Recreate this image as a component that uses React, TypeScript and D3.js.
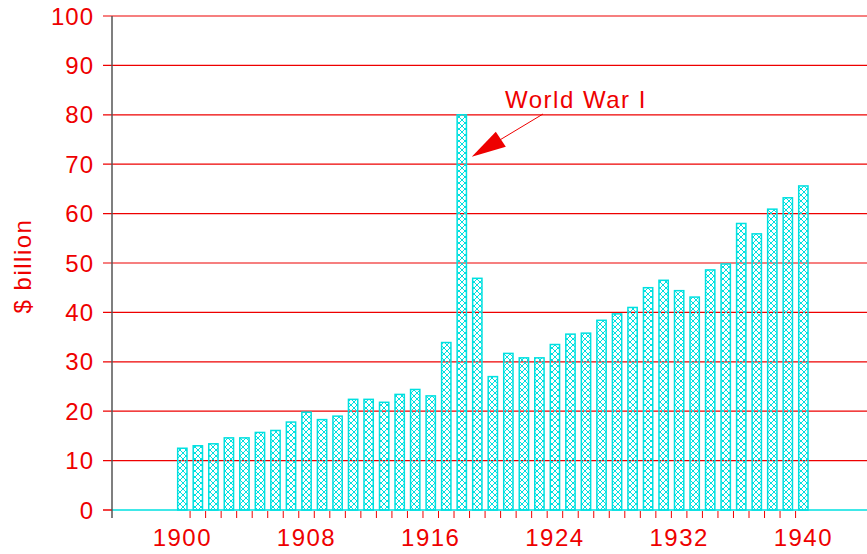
import React, { useEffect, useRef } from "react";
import * as d3 from "d3";

// years 1900..1940
const years = d3.range(1900, 1941);
const values = [
  12.5, 13.0, 13.4, 14.6, 14.6, 15.7, 16.1, 17.8, 19.8, 18.3,
  19.0, 22.4, 22.4, 21.8, 23.4, 24.4, 23.1, 33.9, 80.0, 46.9,
  27.0, 31.7, 30.8, 30.8, 33.5, 35.6, 35.8, 38.4, 39.7, 41.0,
  45.0, 46.5, 44.4, 43.1, 48.6, 49.8, 58.0, 55.9, 60.9, 63.2, 65.6,
];
const yTicks = [0, 10, 20, 30, 40, 50, 60, 70, 80, 90, 100];
const xLabels = [1900, 1908, 1916, 1924, 1932, 1940];

const RED = "#ee0000";
const CYAN = "#00e0e0";
const FONT = "'Liberation Sans', Arial, sans-serif";

export default function App() {
  const ref = useRef<SVGSVGElement>(null);

  useEffect(() => {
    const svg = d3.select(ref.current);
    svg.selectAll("*").remove();

    const width = 867, height = 554;
    const left = 112, bottom = 510, top = 16;

    const x = d3.scaleLinear().domain([1895.47, 1944.1]).range([left, width]);
    const y = d3.scaleLinear().domain([0, 100]).range([bottom, top]);
    const barW = 9.3;

    const defs = svg.append("defs");
    const pat = defs.append("pattern")
      .attr("id", "hatch")
      .attr("patternUnits", "userSpaceOnUse")
      .attr("width", 6)
      .attr("height", 6);
    pat.append("path")
      .attr("d", "M0,0L6,6M6,0L0,6")
      .attr("stroke", CYAN)
      .attr("stroke-width", 1);

    // gridlines
    svg.append("g")
      .selectAll("line")
      .data(yTicks.filter(d => d > 0))
      .enter().append("line")
      .attr("x1", left - 9)
      .attr("x2", width)
      .attr("y1", d => y(d))
      .attr("y2", d => y(d))
      .attr("stroke", RED)
      .attr("stroke-width", 1.2);

    // y labels
    svg.append("g")
      .selectAll("text")
      .data(yTicks)
      .enter().append("text")
      .attr("x", 94)
      .attr("y", d => y(d))
      .attr("dy", "0.36em")
      .attr("text-anchor", "end")
      .attr("font-family", FONT)
      .attr("font-size", 24)
      .attr("letter-spacing", 1)
      .attr("fill", RED)
      .text(d => d);

    // bars
    svg.append("g")
      .selectAll("rect")
      .data(years)
      .enter().append("rect")
      .attr("x", (d) => x(d) - barW / 2)
      .attr("y", (d, i) => y(values[i]))
      .attr("width", barW)
      .attr("height", (d, i) => bottom - y(values[i]))
      .attr("fill", "url(#hatch)")
      .attr("stroke", CYAN)
      .attr("stroke-width", 1.5);

    // zero line
    svg.append("line")
      .attr("x1", left - 9).attr("x2", left)
      .attr("y1", bottom).attr("y2", bottom)
      .attr("stroke", RED).attr("stroke-width", 1.5);
    svg.append("line")
      .attr("x1", left).attr("x2", width)
      .attr("y1", bottom).attr("y2", bottom)
      .attr("stroke", CYAN).attr("stroke-width", 1.5);

    // x ticks between bars
    svg.append("g")
      .selectAll("line")
      .data(years.slice(0, -1))
      .enter().append("line")
      .attr("x1", d => x(d + 0.5))
      .attr("x2", d => x(d + 0.5))
      .attr("y1", bottom + 1)
      .attr("y2", bottom + 8)
      .attr("stroke", RED)
      .attr("stroke-width", 1);

    // x labels
    svg.append("g")
      .selectAll("text")
      .data(xLabels)
      .enter().append("text")
      .attr("x", d => x(d))
      .attr("y", 537)
      .attr("dy", "0.36em")
      .attr("text-anchor", "middle")
      .attr("font-family", FONT)
      .attr("font-size", 24)
      .attr("letter-spacing", 1.5)
      .attr("fill", RED)
      .text(d => d);

    // y axis line
    svg.append("line")
      .attr("x1", left).attr("x2", left)
      .attr("y1", top).attr("y2", bottom + 8)
      .attr("stroke", "#555").attr("stroke-width", 1.5);

    // y title
    svg.append("text")
      .attr("transform", "translate(31,266) rotate(-90)")
      .attr("text-anchor", "middle")
      .attr("font-family", FONT)
      .attr("font-size", 24)
      .attr("letter-spacing", 1.5)
      .attr("fill", RED)
      .text("$ billion");

    // annotation
    const peakIdx = values.indexOf(d3.max(values) as number);
    const tipX = x(years[peakIdx]) + 10;
    const tipY = y(values[peakIdx]) + 42;
    svg.append("line")
      .attr("x1", 543).attr("y1", 114)
      .attr("x2", tipX + 25).attr("y2", tipY - 15)
      .attr("stroke", RED).attr("stroke-width", 1);
    svg.append("path")
      .attr("d", `M${tipX},${tipY}L${tipX + 24},${tipY - 25}L${tipX + 34},${tipY - 10}Z`)
      .attr("fill", RED);
    svg.append("text")
      .attr("x", 505)
      .attr("y", 108)
      .attr("font-family", FONT)
      .attr("font-size", 24)
      .attr("letter-spacing", 1.5)
      .attr("fill", RED)
      .text("World War I");
  }, []);

  return (
    <svg
      ref={ref}
      width={867}
      height={554}
      style={{ position: "absolute", left: 0, top: 0 }}
    ></svg>
  );
}
